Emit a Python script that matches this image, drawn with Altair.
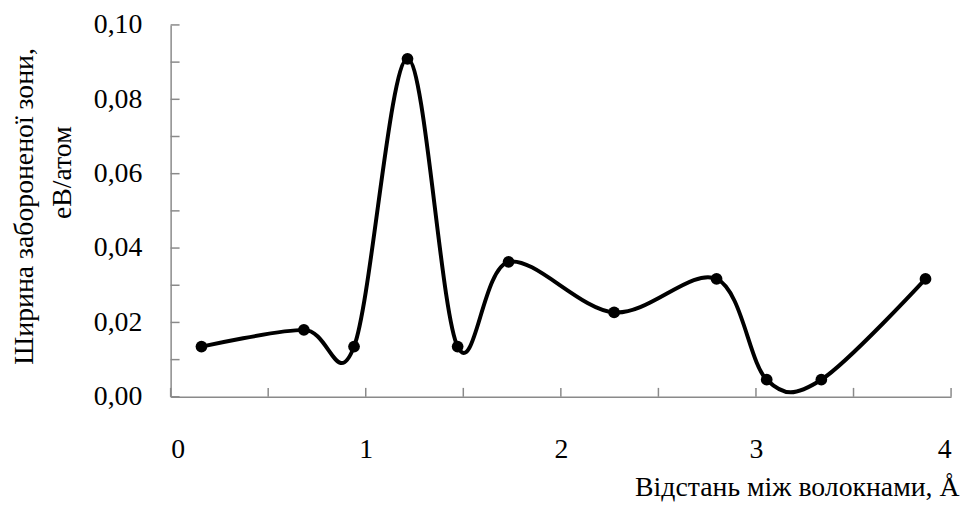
import altair as alt
import pandas as pd

# Data
distance = [0.158, 0.683, 0.94, 1.214, 1.471, 1.732, 2.273, 2.798, 3.055, 3.335, 3.869]
band_gap = [0.0135, 0.018, 0.0135, 0.0909, 0.0135, 0.0363, 0.0227, 0.0317, 0.0046, 0.0046, 0.0317]

x_ticks = [0, 0.5, 1, 1.5, 2, 2.5, 3, 3.5, 4]
x_labels = [0, 1, 2, 3, 4]
y_ticks = [0.0, 0.01, 0.02, 0.03, 0.04, 0.05, 0.06, 0.07, 0.08, 0.09, 0.10]
y_labels = [0.0, 0.02, 0.04, 0.06, 0.08, 0.10]

x_title = "Відстань між волокнами, Å"
y_title_line1 = "Ширина забороненої зони,"
y_title_line2 = ["еВ/атом"]

W, H = 787, 375
FONT = "Liberation Serif, Times New Roman, serif"
FS = 28
AXIS_COLOR = "#8a8a8a"

df = pd.DataFrame({"x": distance, "y": band_gap})
xt = pd.DataFrame({"x": x_ticks})
yt = pd.DataFrame({"y": y_ticks})
unit_df = pd.DataFrame({"t": y_title_line2})

xscale = alt.Scale(domain=[0, 4], nice=False, zero=False)
yscale = alt.Scale(domain=[0, 0.1], nice=False, zero=False)

x_axis = alt.Axis(
    values=x_labels, format="d", ticks=False, tickSize=0, grid=False,
    domainColor=AXIS_COLOR, domainWidth=1.5,
    labelFont=FONT, labelFontSize=FS, labelColor="black", labelPadding=39,
    title=x_title, titleFont=FONT, titleFontSize=FS, titleFontWeight="normal",
    titleColor="black", titleX=W + 8, titleY=100, titleAlign="right",
    titleBaseline="alphabetic",
)
y_axis = alt.Axis(
    values=y_labels, ticks=False, tickSize=0, grid=False,
    labelExpr="replace(format(datum.value, '.2f'), '.', ',')",
    domainColor=AXIS_COLOR, domainWidth=1.5,
    labelFont=FONT, labelFontSize=FS, labelColor="black", labelPadding=29,
    title=y_title_line1, titleFont=FONT, titleFontSize=FS, titleFontWeight="normal",
    titleColor="black", titleAngle=-90, titleX=-139, titleY=H / 2 - 5,
    titleAlign="center", titleBaseline="alphabetic",
)

X = alt.X("x:Q", scale=xscale, axis=x_axis)
Y = alt.Y("y:Q", scale=yscale, axis=y_axis)

line = alt.Chart(df).mark_line(
    interpolate="cardinal", tension=0, color="black", strokeWidth=4
).encode(x=X, y=Y)

points = alt.Chart(df).mark_point(
    filled=True, color="black", size=140, opacity=1
).encode(x=X, y=Y)

xtick_rules = alt.Chart(xt).mark_rule(color=AXIS_COLOR, strokeWidth=1.5).encode(
    x=X,
    y=alt.value(H),
    y2=alt.value(H - 9),
)
ytick_rules = alt.Chart(yt).mark_rule(color=AXIS_COLOR, strokeWidth=1.5).encode(
    y=Y,
    x=alt.value(0),
    x2=alt.value(9),
)

unit_text = alt.Chart(unit_df).mark_text(
    angle=270, font=FONT, fontSize=FS, color="black",
    align="center", baseline="alphabetic",
).encode(
    text=alt.Text("t:N"),
    x=alt.value(-100),
    y=alt.value(149),
)

chart = alt.layer(line, xtick_rules, ytick_rules, points, unit_text).properties(
    width=W, height=H,
    autosize=alt.AutoSizeParams(type="none"),
    padding={"left": 164, "top": 15, "right": 9, "bottom": 104},
    background="white",
).configure_view(stroke=None)

chart.save("out.html", embed_options={"renderer": "svg", "actions": False})
